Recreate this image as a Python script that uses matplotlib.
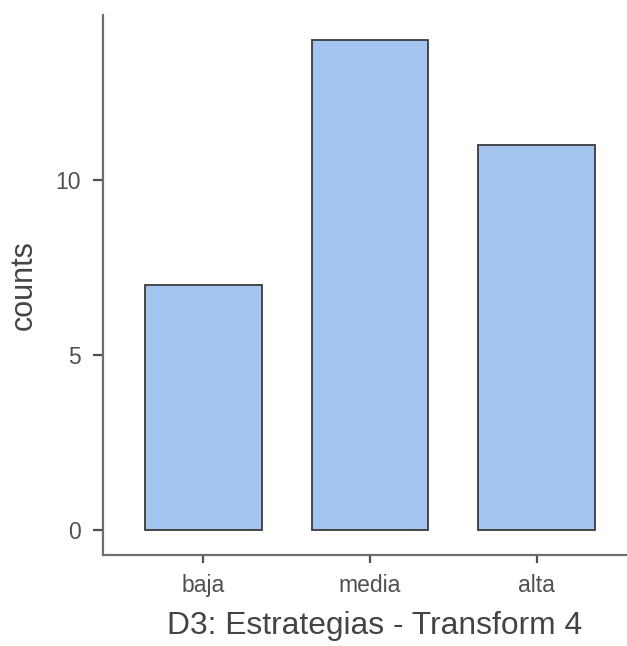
import matplotlib
matplotlib.use("Agg")
import matplotlib.pyplot as plt

# data
categories = ["baja", "media", "alta"]
counts = [7, 14, 11]
y_ticks = [0, 5, 10]

plt.rcParams['font.family'] = ['Liberation Sans', 'DejaVu Sans']

fig = plt.figure(figsize=(6.27, 6.46), dpi=100)
ax = fig.add_axes([0.1643, 0.1409, 1.0 - 0.1643, 0.9768 - 0.1409])

x = list(range(len(categories)))
ax.bar(x, counts, width=0.7, color="#a5c5f1", edgecolor="#3a3a3a", linewidth=1.3)

ax.set_xlim(-0.6, 2.54)
ax.set_ylim(-0.71, 14.71)
ax.set_xticks(x)
ax.set_xticklabels(categories)
ax.set_yticks(y_ticks)

for side in ["top", "right"]:
    ax.spines[side].set_visible(False)
for side in ["left", "bottom"]:
    ax.spines[side].set_color("#6e6e6e")
    ax.spines[side].set_linewidth(1.6)

ax.tick_params(axis="both", colors="#505050", labelsize=16.5, width=1.6, length=6, pad=8)
ax.tick_params(axis="y", length=7, pad=9)

# label sits a bit right of the visible axis centre in the original
ax.set_xlabel("D3: Estrategias - Transform 4", fontsize=22.9, color="#444444", labelpad=10, x=0.518)
ax.set_ylabel("counts", fontsize=22, color="#444444", labelpad=12)

fig.savefig("out.png", dpi=100)
